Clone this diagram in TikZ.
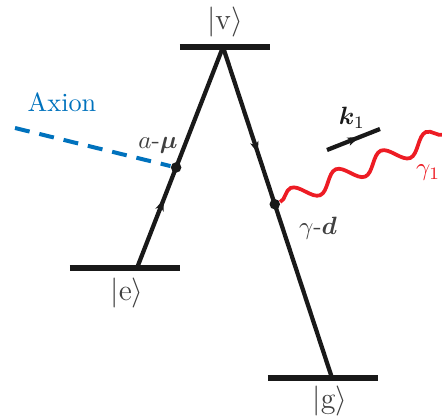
\documentclass[tikz,border=0pt]{standalone}
\usepackage{amsmath,bm}
\usetikzlibrary{calc,decorations.pathmorphing,decorations.markings,arrows.meta}
\definecolor{axblue}{RGB}{0,114,189}
\definecolor{phred}{RGB}{237,28,36}
\definecolor{lbl}{gray}{0.25}
\begin{document}
\begin{tikzpicture}[x=0.4pt,y=-0.4pt,
  level/.style={line width=2.5pt,black!90},
  trans/.style={line width=1.7pt,black!90},
  midarrow/.style={postaction={decorate},decoration={markings,mark=at position #1 with {\arrow{Stealth[length=4.5pt,width=3.4pt,inset=1.2pt]}}}},
  vdot/.style={circle,fill=black!90,inner sep=0pt,minimum size=4.2pt},
  ket/.style={text=lbl,font=\large},
  axl/.style={axblue,line width=1.6pt,dash pattern=on 6pt off 4pt},
  photon/.style={phred,line width=1.5pt,decorate,decoration={snake,segment length=19.5pt,amplitude=3.6pt,pre length=0pt}}]
\useasboundingbox (0,0) rectangle (442,420);
\clip (0,0) rectangle (442,420);
% levels
\coordinate (vl) at (180,47); \coordinate (vr) at (270,47);
\coordinate (el) at (70,268); \coordinate (er) at (180,268);
\coordinate (gl) at (268,378); \coordinate (gr) at (378,378);
\coordinate (top) at (223,47);
\coordinate (eb) at (137,268);
\coordinate (gb) at (332,378);
\draw[level] (vl) -- (vr);
\draw[level] (el) -- (er);
\draw[level] (gl) -- (gr);
% transitions
\draw[trans,midarrow=0.31] (eb) -- (top);
\draw[trans,midarrow=0.32] (top) -- (gb);
% vertices
\node[vdot] (da) at ($(eb)!0.455!(top)$) {};
\node[vdot] (dg) at ($(top)!0.475!(gb)$) {};
% axion
\coordinate (ax0) at (15,128);
\draw[axl] (ax0) -- (da);
\node[text=axblue,font=\fontsize{10.5}{12}\selectfont] (axt) at (62,102) {Axion};
% photon
\coordinate (ph1) at (452,131);
\draw[photon] (dg) -- (ph1);
\node[text=phred,anchor=east,inner sep=0.5pt] (g1) at (442,173) {$\gamma_1$};
% k1
\coordinate (k0) at (327,150); \coordinate (k1) at (380,129);
\draw[trans,midarrow=0.6] (k0) -- (k1);
\node[text=black!90] (kl) at (352,118) {$\boldsymbol{k}_1$};
% labels
\node[ket] (lv) at (225,22) {$|\mathrm{v}\rangle$};
\node[ket] (le) at (127,293) {$|\mathrm{e}\rangle$};
\node[ket] (lg) at (330,401) {$|\mathrm{g}\rangle$};
\node[text=lbl] (lam) at (158,145) {$a$-$\boldsymbol{\mu}$};
\node[text=lbl] (lgd) at (318,228) {$\gamma$-$\boldsymbol{d}$};
\end{tikzpicture}
\end{document}
